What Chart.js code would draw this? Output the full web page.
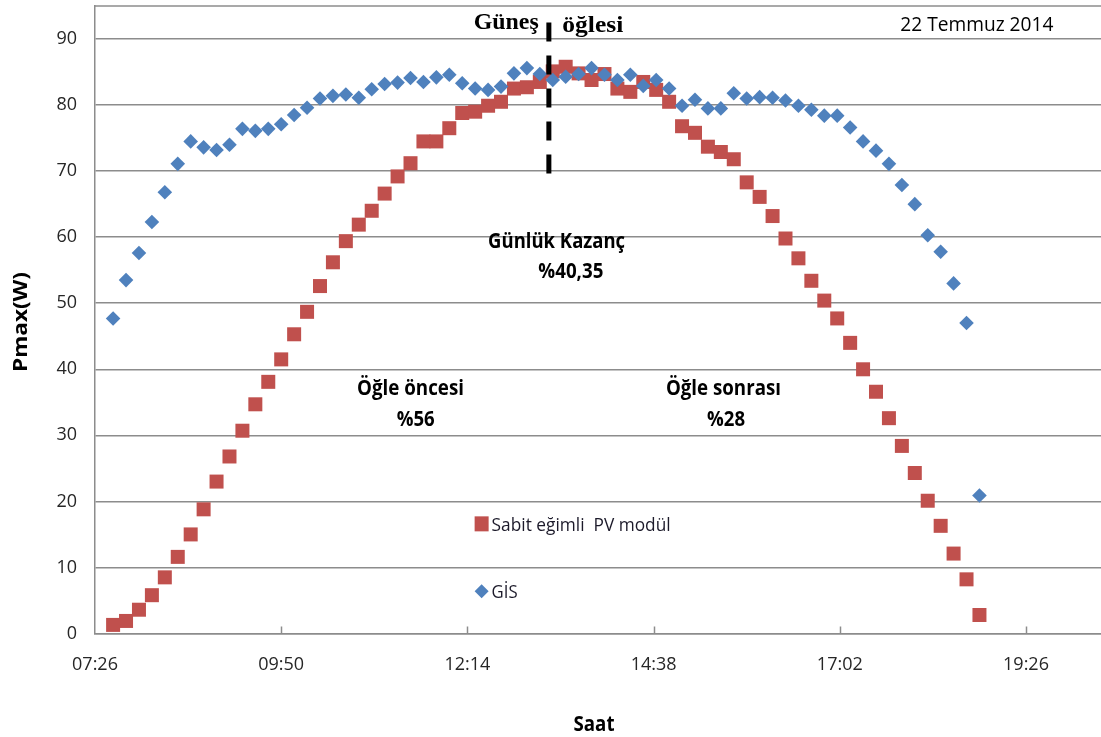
<!DOCTYPE html>
<html>
<head>
<meta charset="utf-8">
<script src="https://cdn.jsdelivr.net/npm/chart.js@4.4.1/dist/chart.umd.min.js"></script>
<style>
  html, body { margin: 0; padding: 0; background: #ffffff; }
  canvas { display: block; }
</style>
</head>
<body>
<canvas id="pmaxChart" width="1101" height="737"></canvas>
<script>
// Measurement times (local clock, 10-minute steps)
const times = [
  '07:40','07:50','08:00','08:10','08:20','08:30','08:40','08:50','09:00','09:10',
  '09:20','09:30','09:40','09:50','10:00','10:10','10:20','10:30','10:40','10:50',
  '11:00','11:10','11:20','11:30','11:40','11:50','12:00','12:10','12:20','12:30',
  '12:40','12:50','13:00','13:10','13:20','13:30','13:40','13:50','14:00','14:10',
  '14:20','14:30','14:40','14:50','15:00','15:10','15:20','15:30','15:40','15:50',
  '16:00','16:10','16:20','16:30','16:40','16:50','17:00','17:10','17:20','17:30',
  '17:40','17:50','18:00','18:10','18:20','18:30','18:40','18:50'
];

// Pmax (W) of the fixed-tilt PV module
const sabitPV = [
  1.3, 1.9, 3.6, 5.8, 8.5, 11.6, 15.0, 18.8, 23.0, 26.8,
  30.7, 34.7, 38.1, 41.5, 45.3, 48.7, 52.6, 56.2, 59.4, 61.9,
  64.0, 66.6, 69.2, 71.2, 74.5, 74.5, 76.5, 78.8, 79.0, 79.9,
  80.5, 82.5, 82.7, 83.5, 85.1, 85.8, 84.8, 83.8, 84.7, 82.5,
  82.0, 83.5, 82.3, 80.5, 76.8, 75.8, 73.7, 72.9, 71.8, 68.3,
  66.1, 63.2, 59.8, 56.8, 53.4, 50.4, 47.7, 44.0, 40.0, 36.6,
  32.6, 28.4, 24.3, 20.1, 16.3, 12.1, 8.2, 2.8
];

// Pmax (W) of the sun-tracking (GİS) module
const gis = [
  47.7, 53.5, 57.6, 62.3, 66.8, 71.1, 74.5, 73.6, 73.2, 74.0,
  76.4, 76.1, 76.4, 77.1, 78.5, 79.6, 81.0, 81.4, 81.6, 81.1,
  82.4, 83.2, 83.4, 84.1, 83.5, 84.2, 84.6, 83.3, 82.5, 82.3,
  82.8, 84.8, 85.6, 84.7, 83.8, 84.3, 84.7, 85.6, 84.6, 83.8,
  84.6, 82.9, 83.8, 82.5, 79.9, 80.8, 79.5, 79.5, 81.8, 81.0,
  81.2, 81.1, 80.7, 79.9, 79.3, 78.4, 78.4, 76.6, 74.5, 73.1,
  71.1, 67.9, 65.0, 60.3, 57.8, 53.0, 47.0, 20.9
];

const xTickLabels = ['07:26', '09:50', '12:14', '14:38', '17:02', '19:26'];
const xAxisEnd = '20:24';
const yTickValues = [0, 10, 20, 30, 40, 50, 60, 70, 80, 90];
const yAxisMax = 95;

const solarNoon = '13:17';
const noonLineFrom = 92.5;
const noonLineTo = 68.2;

const seriesNames = ['Sabit eğimli  PV modül', 'GİS'];
const dateText = '22 Temmuz 2014';

// Text notes placed in axis units (clock time, watts); y is the text baseline
const notes = [
  { text: 'Güneş',          at: '12:44', w: 91.5, font: 'bold 23px "Liberation Serif"', width: 65 },
  { text: 'öğlesi',         at: '13:51', w: 91.0, font: 'bold 23px "Liberation Serif"', width: 61 },
  { text: 'Günlük Kazanç',  at: '13:23', w: 58.4, font: 'bold 21px "Open Sans"', width: 137 },
  { text: '%40,35',         at: '13:34', w: 53.8, font: 'bold 21px "Open Sans"', width: 65 },
  { text: 'Öğle öncesi',    at: '11:30', w: 36.1, font: 'bold 21px "Open Sans"', width: 107 },
  { text: '%56',            at: '11:34', w: 31.4, font: 'bold 21px "Open Sans"', width: 38 },
  { text: 'Öğle sonrası',   at: '15:32', w: 36.1, font: 'bold 21px "Open Sans"', width: 115 },
  { text: '%28',            at: '15:34', w: 31.4, font: 'bold 21px "Open Sans"', width: 38 },
  { text: dateText,         at: '18:48', w: 91.2, font: '20px "Open Sans"', width: 153 }
];

// In-plot legend anchors (clock time, watts)
const legendAt = { time: '12:25', rows: [16.6, 6.4] };

const toMin = s => { const [h, m] = s.split(':').map(Number); return h * 60 + m; };
const xTickValues = xTickLabels.map(toMin);

const RED = '#C0504D';
const BLUE = '#4F81BD';
const GRID = '#8c8c8c';
const TICK_COLOR = '#262626';
const TICK_FONT = { family: 'Open Sans', size: 18 };

function fitText(ctx, str, x, y, font, width, align) {
  ctx.save();
  ctx.font = font;
  const natural = ctx.measureText(str).width;
  ctx.translate(x, y);
  ctx.scale(width / natural, 1);
  ctx.textAlign = align || 'center';
  ctx.textBaseline = 'alphabetic';
  ctx.fillText(str, 0, 0);
  ctx.restore();
}

// keep the plot frame fixed: no extra room reserved for edge tick labels
function noEdgePadding(s) {
  s.paddingLeft = 0;
  s.paddingRight = 0;
  s.paddingTop = 0;
  s.paddingBottom = 0;
}

const overlay = {
  id: 'overlay',
  afterDatasetsDraw(chart) {
    const { ctx, chartArea: area, scales: { x, y } } = chart;
    ctx.save();

    // top frame line
    ctx.strokeStyle = GRID;
    ctx.lineWidth = 1.5;
    ctx.beginPath();
    ctx.moveTo(area.left, y.getPixelForValue(yAxisMax));
    ctx.lineTo(area.right, y.getPixelForValue(yAxisMax));
    ctx.stroke();

    // inside tick marks on the time axis
    xTickValues.slice(1).forEach(v => {
      const px = Math.round(x.getPixelForValue(v)) + 0.5;
      ctx.beginPath();
      ctx.moveTo(px, area.bottom);
      ctx.lineTo(px, area.bottom - 7);
      ctx.stroke();
    });

    // solar noon marker
    const nx = x.getPixelForValue(toMin(solarNoon));
    ctx.strokeStyle = '#000000';
    ctx.lineWidth = 5;
    ctx.setLineDash([19, 14]);
    ctx.beginPath();
    ctx.moveTo(nx, y.getPixelForValue(noonLineFrom));
    ctx.lineTo(nx, y.getPixelForValue(noonLineTo));
    ctx.stroke();
    ctx.setLineDash([]);

    // notes
    ctx.fillStyle = '#000000';
    notes.forEach(n => {
      fitText(ctx, n.text, x.getPixelForValue(toMin(n.at)), y.getPixelForValue(n.w), n.font, n.width);
    });

    // legend
    const lx = x.getPixelForValue(toMin(legendAt.time));
    const r0 = y.getPixelForValue(legendAt.rows[0]);
    const r1 = y.getPixelForValue(legendAt.rows[1]);
    ctx.fillStyle = RED;
    ctx.fillRect(lx - 7, r0 - 7.5, 14, 15);
    ctx.fillStyle = BLUE;
    ctx.beginPath();
    ctx.moveTo(lx - 7, r1);
    ctx.lineTo(lx, r1 - 7);
    ctx.lineTo(lx + 7, r1);
    ctx.lineTo(lx, r1 + 7);
    ctx.closePath();
    ctx.fill();
    ctx.fillStyle = '#1c1a2a';
    fitText(ctx, seriesNames[0], lx + 10, r0 + 7, '19px "Open Sans"', 179, 'left');
    fitText(ctx, seriesNames[1], lx + 10, r1 + 7, '19px "Open Sans"', 26, 'left');

    // axis titles
    ctx.fillStyle = '#000000';
    fitText(ctx, 'Saat', (area.left + area.right) / 2 - 4, 731, 'bold 21px "Open Sans"', 41);
    ctx.save();
    ctx.translate(26.5, 322);
    ctx.rotate(-Math.PI / 2);
    fitText(ctx, 'Pmax(W)', 0, 0, 'bold 20px "Open Sans"', 100);
    ctx.restore();

    ctx.restore();
  }
};

const toPoints = vals => times.map((t, i) => ({ x: toMin(t), y: vals[i] }));

new Chart(document.getElementById('pmaxChart'), {
  type: 'scatter',
  data: {
    datasets: [
      {
        label: seriesNames[0],
        data: toPoints(sabitPV),
        pointStyle: 'rect',
        pointRadius: 9.9,
        pointHoverRadius: 9.9,
        pointBackgroundColor: RED,
        pointBorderWidth: 0,
        borderWidth: 0,
        order: 2,
        clip: false
      },
      {
        label: seriesNames[1],
        data: toPoints(gis),
        pointStyle: 'rectRot',
        pointRadius: 7.3,
        pointHoverRadius: 7.3,
        pointBackgroundColor: BLUE,
        pointBorderWidth: 0,
        borderWidth: 0,
        order: 1,
        clip: false
      }
    ]
  },
  options: {
    responsive: false,
    animation: false,
    devicePixelRatio: 1,
    layout: { autoPadding: false, padding: { top: 6, left: 0, right: 0, bottom: 0 } },
    plugins: {
      legend: { display: false },
      tooltip: { enabled: false }
    },
    scales: {
      x: {
        type: 'linear',
        min: xTickValues[0],
        max: toMin(xAxisEnd),
        afterBuildTicks: s => { s.ticks = xTickValues.map(v => ({ value: v })); },
        afterFit: s => { s.height = 103.5; noEdgePadding(s); },
        grid: { display: false, drawTicks: false },
        border: { display: true, color: GRID, width: 1.5 },
        ticks: {
          autoSkip: false,
          maxRotation: 0,
          padding: 21,
          color: TICK_COLOR,
          font: TICK_FONT,
          callback: v => xTickLabels[xTickValues.indexOf(v)]
        }
      },
      y: {
        min: 0,
        max: yAxisMax,
        afterBuildTicks: s => { s.ticks = yTickValues.map(v => ({ value: v })); },
        afterFit: s => { s.width = 95; noEdgePadding(s); },
        grid: { color: GRID, lineWidth: 1.5, drawTicks: false },
        border: { display: true, color: GRID, width: 1.5 },
        ticks: {
          padding: 18,
          color: TICK_COLOR,
          font: TICK_FONT,
          callback: v => String(v)
        }
      }
    }
  },
  plugins: [overlay]
});
</script>
</body>
</html>
